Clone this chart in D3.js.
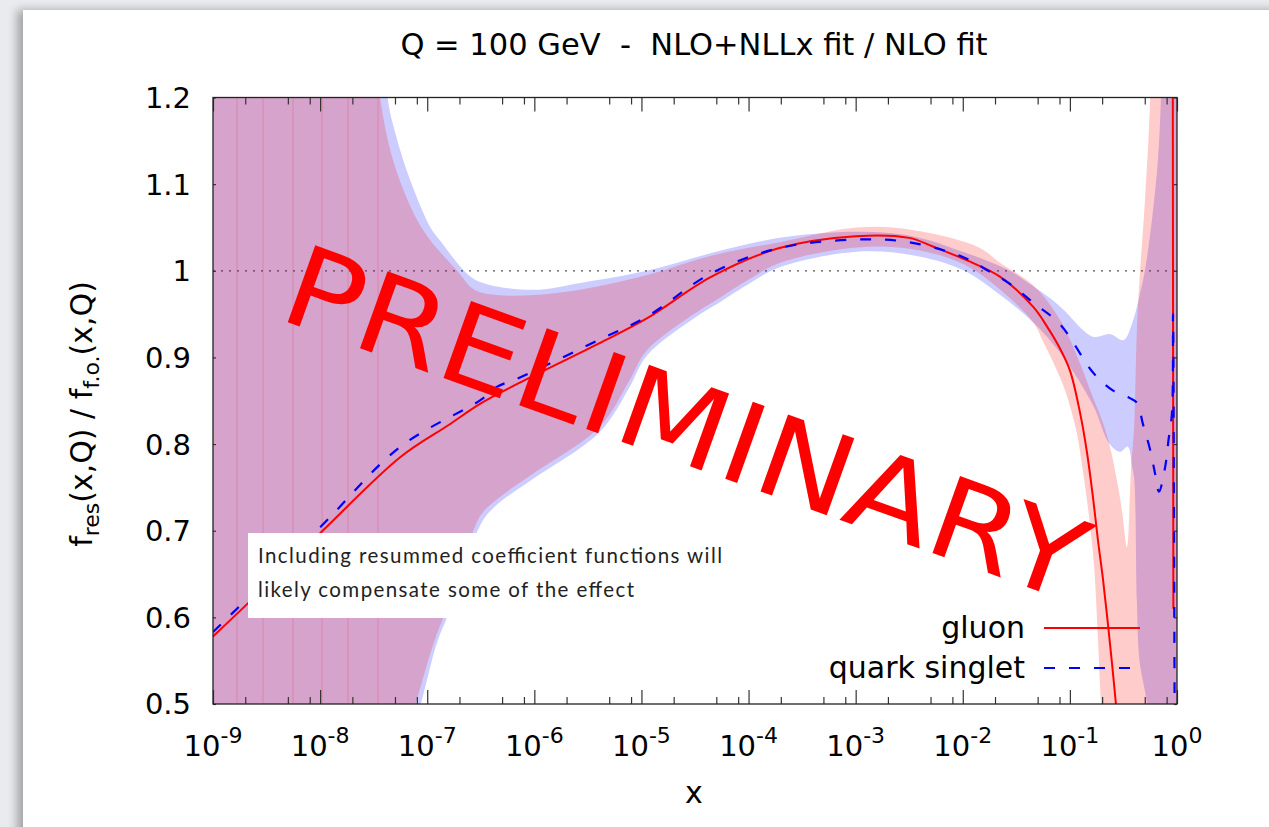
<!DOCTYPE html>
<html>
<head>
<meta charset="utf-8">
<script src="https://cdn.jsdelivr.net/npm/d3@7"></script>
<style>
  html, body { margin: 0; padding: 0; background: #e9ebef; overflow: hidden; width: 1269px; height: 827px; }
  #card { position: absolute; left: 23px; top: 10px; width: 1300px; height: 900px; background: #fff;
          box-shadow: -6px 0 9px rgba(0,0,0,0.30); }
  svg { position: absolute; left: 0; top: 0; }
  text { font-family: "DejaVu Sans", sans-serif; fill: #000; }
</style>
</head>
<body>
<div id="card"></div>
<svg id="chart" width="1269" height="827"></svg>
<script>
// Ratio of resummed (NLO+NLLx) to fixed-order (NLO) PDFs at Q = 100 GeV.
// Points are [log10(x), ratio].

const gluonCentral = [
  [-9, 0.578], [-8.65, 0.619], [-8.0, 0.697], [-7.25, 0.785], [-6.8, 0.822], [-6.5, 0.847],
  [-6.15, 0.870], [-5.4, 0.916], [-4.95, 0.945], [-4.35, 0.993], [-3.72, 1.026], [-3.0, 1.040],
  [-2.5, 1.038], [-2.28, 1.028], [-1.96, 1.012], [-1.65, 0.993], [-1.34, 0.958], [-1.21, 0.935],
  [-1.1, 0.912], [-1.0, 0.885], [-0.905, 0.836], [-0.84, 0.790], [-0.785, 0.739], [-0.738, 0.689],
  [-0.69, 0.643], [-0.626, 0.57], [-0.57, 0.50], [-0.5, 0.40],
  null,
  [-0.034, 0.61], [-0.037, 0.95], [-0.04, 1.3]
];

const quarkCentral = [
  [-9, 0.583], [-8.0, 0.704], [-7.25, 0.797], [-6.5, 0.851], [-6.35, 0.866], [-6.15, 0.876],
  [-5.4, 0.920], [-4.95, 0.947], [-4.35, 0.997], [-3.72, 1.026], [-3.0, 1.036], [-2.5, 1.033],
  [-2.0, 1.016], [-1.75, 0.999], [-1.56, 0.985], [-1.34, 0.963], [-1.09, 0.938], [-0.78, 0.882],
  [-0.60, 0.862], [-0.44, 0.853], [-0.37, 0.847], [-0.32, 0.824], [-0.25, 0.793], [-0.205, 0.766],
  [-0.168, 0.745], [-0.11, 0.774], [-0.08, 0.804], [-0.047, 0.836], [-0.037, 0.95], [-0.028, 0.70],
  [-0.02, 0.40]
];

const gluonBandHigh = [
  [-9.3, 1.5], [-7.6, 1.45], [-7.44, 1.2], [-7.30, 1.12], [-7.10, 1.06], [-6.97, 1.035], [-6.72, 1.0],
  [-6.56, 0.978], [-6.35, 0.972], [-6.0, 0.972], [-5.57, 0.978], [-4.95, 0.995], [-4.33, 1.018],
  [-3.71, 1.033], [-2.99, 1.050], [-2.47, 1.047], [-1.85, 1.027], [-1.65, 1.009], [-1.34, 0.983],
  [-1.09, 0.943], [-0.905, 0.893], [-0.785, 0.854], [-0.69, 0.824], [-0.626, 0.797], [-0.56, 0.758],
  [-0.51, 0.720], [-0.467, 0.681], [-0.43, 0.77], [-0.40, 0.82], [-0.375, 0.93], [-0.35, 0.99],
  [-0.30, 1.08], [-0.25, 1.2], [-0.2, 1.5], [0.1, 1.5]
];

const gluonBandLow = [
  [-9.3, 0.2], [-7.35, 0.4], [-7.11, 0.5], [-6.93, 0.574], [-6.81, 0.612], [-6.65, 0.670],
  [-6.50, 0.718], [-6.32, 0.739], [-6.01, 0.766], [-5.39, 0.820], [-5.11, 0.874], [-4.95, 0.908],
  [-4.45, 0.955], [-4.33, 0.964], [-4.01, 0.989], [-3.71, 1.009], [-2.99, 1.027], [-2.47, 1.025],
  [-2.0, 1.008], [-1.65, 0.978], [-1.34, 0.940], [-1.25, 0.918], [-1.14, 0.890], [-1.04, 0.860],
  [-0.94, 0.815], [-0.88, 0.77], [-0.82, 0.715], [-0.775, 0.66], [-0.74, 0.58], [-0.71, 0.5],
  [-0.66, 0.4], [0.1, 0.2]
];

const quarkBandHigh = [
  [-9.3, 1.5], [-7.5, 1.45], [-7.37, 1.2], [-7.30, 1.16], [-7.16, 1.105], [-6.97, 1.05], [-6.88, 1.035],
  [-6.63, 0.997], [-6.48, 0.986], [-6.01, 0.978], [-5.57, 0.986], [-4.95, 1.0], [-4.33, 1.021],
  [-3.71, 1.038], [-2.99, 1.045], [-2.47, 1.040], [-2.0, 1.022], [-1.56, 1.0], [-1.40, 0.987],
  [-1.16, 0.966], [-1.06, 0.955], [-0.785, 0.924], [-0.626, 0.927], [-0.50, 0.920], [-0.41, 0.943],
  [-0.345, 0.974], [-0.30, 1.0], [-0.233, 1.06], [-0.177, 1.13], [-0.15, 1.2], [-0.1, 1.5], [0.1, 1.5]
];

const quarkBandLow = [
  [-9.3, 0.2], [-7.3, 0.4], [-7.06, 0.5], [-6.91, 0.570], [-6.79, 0.608], [-6.63, 0.665],
  [-6.48, 0.712], [-6.32, 0.733], [-6.01, 0.760], [-5.39, 0.814], [-5.11, 0.866], [-4.95, 0.902],
  [-4.45, 0.950], [-4.33, 0.959], [-4.01, 0.984], [-3.71, 1.004], [-2.99, 1.022], [-2.47, 1.018],
  [-2.0, 1.001], [-1.65, 0.972], [-1.34, 0.94], [-1.09, 0.905], [-0.785, 0.845], [-0.63, 0.80],
  [-0.53, 0.791], [-0.46, 0.797], [-0.42, 0.774], [-0.40, 0.76], [-0.375, 0.62], [-0.35, 0.55],
  [-0.28, 0.50], [-0.22, 0.40], [0.1, 0.2]
];

// coarse sampling grid of the small-x part of the bands (polygon seams)
const bandGridLog10x = [-8.776, -8.533, -8.253, -7.982, -7.739, -7.459];

const xDecades = [-9, -8, -7, -6, -5, -4, -3, -2, -1, 0];
const xMinorMantissas = [2, 5, 8];
const yTicks = [0.5, 0.6, 0.7, 0.8, 0.9, 1.0, 1.1, 1.2];
const yTickLabels = ["0.5", "0.6", "0.7", "0.8", "0.9", "1", "1.1", "1.2"];

const seriesNames = ["gluon", "quark singlet"];
const titleText = "Q = 100 GeV  -  NLO+NLLx fit / NLO fit";
const noteLines = ["Including resummed coefficient functions will",
                   "likely compensate some of the effect"];
const stampText = "PRELIMINARY";

// ---------------------------------------------------------------------------
const plot = { left: 213, right: 1177, top: 97.5, bottom: 704 };
const svg = d3.select("#chart");

const x = d3.scaleLog().domain([1e-9, 1]).range([plot.left, plot.right]);
const y = d3.scaleLinear().domain([0.5, 1.2]).range([plot.bottom, plot.top]);
const X = lx => x(Math.pow(10, lx));

svg.append("defs").append("clipPath").attr("id", "plotClip")
  .append("rect")
  .attr("x", plot.left).attr("y", plot.top)
  .attr("width", plot.right - plot.left).attr("height", plot.bottom - plot.top);

const inner = svg.append("g").attr("clip-path", "url(#plotClip)");

// reference line at ratio 1
inner.append("line")
  .attr("x1", x(1e-9)).attr("x2", x(1))
  .attr("y1", y(1)).attr("y2", y(1))
  .attr("stroke", "#555").attr("stroke-width", 1.3)
  .attr("stroke-dasharray", "2,6");

const curve = d3.curveCatmullRom.alpha(0.5);
const line = d3.line().defined(d => d !== null).x(d => X(d[0])).y(d => y(d[1])).curve(curve);
const edge = d3.line().x(d => X(d[0])).y(d => y(d[1])).curve(curve);
// band outline: upper edge left to right, then lower edge right to left
const bandPath = (hi, lo) => {
  const top = edge(hi);
  const bottom = edge(lo.slice().reverse());
  return top + "L" + bottom.slice(1) + "Z";
};

// uncertainty bands
inner.append("path").attr("d", bandPath(quarkBandHigh, quarkBandLow))
  .attr("fill", "rgba(0,0,255,0.2)");
inner.append("path").attr("d", bandPath(gluonBandHigh, gluonBandLow))
  .attr("fill", "rgba(255,0,0,0.2)");

inner.selectAll("line.seam").data(bandGridLog10x).join("line")
  .attr("class", "seam")
  .attr("x1", d => X(d)).attr("x2", d => X(d))
  .attr("y1", y(1.2)).attr("y2", y(0.5))
  .attr("stroke", "rgba(255,0,0,0.13)").attr("stroke-width", 1.4);

// central curves
inner.append("path").attr("d", line(gluonCentral))
  .attr("fill", "none").attr("stroke", "#ff0000").attr("stroke-width", 2);
inner.append("path").attr("d", line(quarkCentral))
  .attr("fill", "none").attr("stroke", "#0000ff").attr("stroke-width", 2.2)
  .attr("stroke-dasharray", "11,14");

// frame and ticks
const majorX = xDecades.map(k => Math.pow(10, k));
const minorX = [];
xDecades.slice(0, -1).forEach(k => xMinorMantissas.forEach(m => minorX.push(m * Math.pow(10, k))));

const tickStyle = g => {
  g.select(".domain").remove();
  g.selectAll(".tick line").attr("stroke", "#333").attr("stroke-width", 1.2);
};
svg.append("g").attr("transform", `translate(0,${plot.bottom})`)
  .call(d3.axisBottom(x).tickValues(majorX).tickSize(-14).tickFormat("")).call(tickStyle);
svg.append("g").attr("transform", `translate(0,${plot.bottom})`)
  .call(d3.axisBottom(x).tickValues(minorX).tickSize(-7).tickFormat("")).call(tickStyle);
svg.append("g").attr("transform", `translate(0,${plot.top})`)
  .call(d3.axisTop(x).tickValues(majorX).tickSize(-14).tickFormat("")).call(tickStyle);
svg.append("g").attr("transform", `translate(0,${plot.top})`)
  .call(d3.axisTop(x).tickValues(minorX).tickSize(-7).tickFormat("")).call(tickStyle);
svg.append("g").attr("transform", `translate(${plot.left},0)`)
  .call(d3.axisLeft(y).tickValues(yTicks).tickSize(-3).tickFormat("")).call(tickStyle);
svg.append("g").attr("transform", `translate(${plot.right},0)`)
  .call(d3.axisRight(y).tickValues(yTicks).tickSize(-3).tickFormat("")).call(tickStyle);

svg.append("rect")
  .attr("x", plot.left).attr("y", plot.top)
  .attr("width", plot.right - plot.left).attr("height", plot.bottom - plot.top)
  .attr("fill", "none").attr("stroke", "#222").attr("stroke-width", 1.3);

// tick labels
const xLab = svg.append("g").selectAll("text").data(xDecades).join("text")
  .attr("x", d => x(Math.pow(10, d))).attr("y", 756)
  .attr("text-anchor", "middle").style("font-size", "29px");
xLab.append("tspan").text("10");
xLab.append("tspan").attr("dy", -13).style("font-size", "22px").text(d => String(d));

svg.append("g").selectAll("text").data(yTicks).join("text")
  .attr("x", 191).attr("y", d => y(d)).attr("dy", "0.36em")
  .attr("text-anchor", "end").style("font-size", "29px")
  .text((d, i) => yTickLabels[i]);

// titles
svg.append("text").attr("x", 694).attr("y", 55).attr("text-anchor", "middle")
  .style("font-size", "30.5px").style("white-space", "pre").attr("xml:space", "preserve")
  .text(titleText);

svg.append("text").attr("x", 694).attr("y", 803).attr("text-anchor", "middle")
  .style("font-size", "30px").text("x");

const yl = svg.append("text")
  .attr("transform", "translate(92,414) rotate(-90)")
  .attr("text-anchor", "middle").style("font-size", "30px");
yl.append("tspan").text("f");
yl.append("tspan").attr("dy", 7).style("font-size", "22px").text("res");
yl.append("tspan").attr("dy", -7).text("(x,Q) / f");
yl.append("tspan").attr("dy", 7).style("font-size", "22px").text("f.o.");
yl.append("tspan").attr("dy", -7).text("(x,Q)");

// legend
const legend = svg.append("g");
const legendRows = [
  { name: seriesNames[0], color: "#ff0000", dash: null, width: 2, y: 628 },
  { name: seriesNames[1], color: "#0000ff", dash: "11,14", width: 2.2, y: 668 }
];
legendRows.forEach(r => {
  legend.append("text").attr("x", 1025).attr("y", r.y).attr("dy", "0.33em")
    .attr("text-anchor", "end").style("font-size", "30px").text(r.name);
  legend.append("line").attr("x1", 1044).attr("x2", 1140).attr("y1", r.y).attr("y2", r.y)
    .attr("stroke", r.color).attr("stroke-width", r.width)
    .attr("stroke-dasharray", r.dash);
});

// annotation box
svg.append("rect").attr("x", 248).attr("y", 533).attr("width", 488).attr("height", 85)
  .attr("fill", "#fff");
const noteWidths = [464, 376];
svg.append("g").selectAll("text").data(noteLines).join("text")
  .attr("x", 258).attr("y", (d, i) => 563 + i * 34)
  .style("font-family", "Lato, 'DejaVu Sans', sans-serif").style("font-size", "20.5px")
  .style("fill", "#222")
  .attr("textLength", (d, i) => noteWidths[i]).attr("lengthAdjust", "spacing")
  .text(d => d);

// stamp
svg.append("text")
  .attr("transform", "translate(276,318) rotate(19.7)")
  .style("font-size", "112px").style("fill", "#ff0000")
  .attr("textLength", 843).attr("lengthAdjust", "spacingAndGlyphs")
  .text(stampText);
</script>
</body>
</html>
